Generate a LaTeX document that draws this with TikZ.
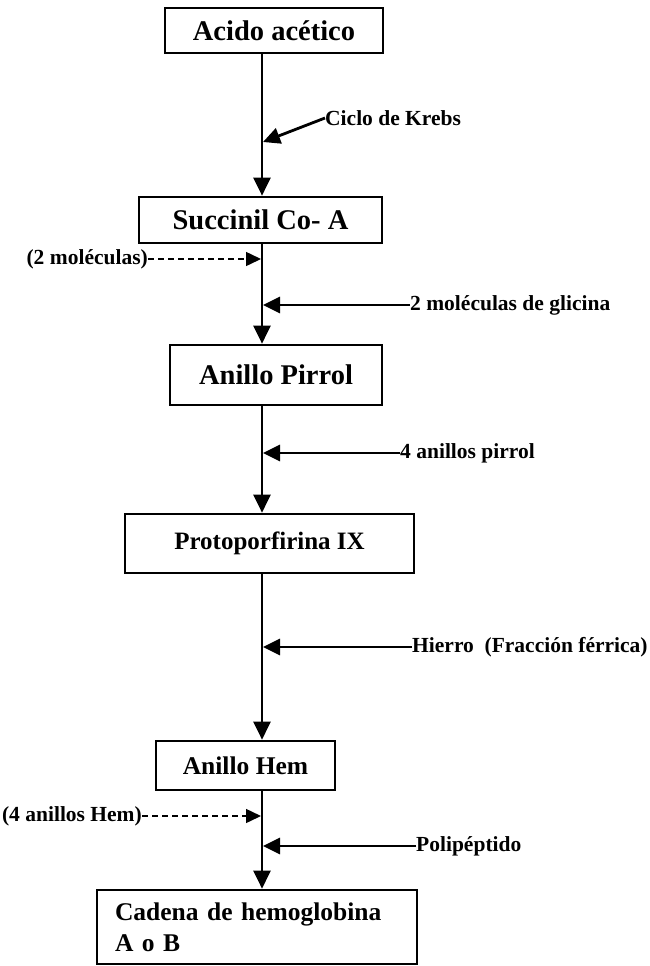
\documentclass[tikz,border=0pt]{standalone}
\usepackage{fontspec}
\setmainfont{Liberation Serif}
\usetikzlibrary{arrows.meta}
\begin{document}
\begin{tikzpicture}[x=1pt,y=-1pt,
  box/.style={draw, line width=2.7pt, inner sep=0pt},
  flow/.style={line width=2.8pt, -{Triangle[length=18pt,width=17pt]}},
  feed/.style={line width=2.8pt, -{Triangle[length=17pt,width=16pt]}},
  dfeed/.style={line width=1.5pt, dash pattern=on 6pt off 4pt, -{Triangle[length=15pt,width=14pt]}},
  lbl/.style={font=\bfseries\fontsize{21.5}{24}\selectfont, inner sep=0pt}]
\useasboundingbox (0,0) rectangle (649,966);
\coordinate (col) at (262,0);
% boxes
\node[box, minimum width=218pt, minimum height=45pt, font=\bfseries\fontsize{28.5}{30}\selectfont] (b1) at (274,30.5) {Acido acético};
\node[box, minimum width=243pt, minimum height=46pt, font=\bfseries\fontsize{28.5}{30}\selectfont] (b2) at (260.5,220) {Succinil Co- A};
\node[box, minimum width=212pt, minimum height=60pt, font=\bfseries\fontsize{28.5}{30}\selectfont] (b3) at (276,375) {Anillo Pirrol};
\node[box, minimum width=289pt, minimum height=59pt, font=\bfseries\fontsize{25}{28}\selectfont] (b4) at (269.5,543.5) {Protoporfirina IX};
\node[box, minimum width=179pt, minimum height=49pt, font=\bfseries\fontsize{25.5}{28}\selectfont] (b5) at (245.5,765.5) {Anillo Hem};
\node[box, minimum width=320pt, minimum height=74pt, inner xsep=18pt, text width=284pt, align=left, font=\bfseries\fontsize{25.5}{31}\selectfont] (b6) at (257,927) {Cadena de hemoglobina\\A o B};
% main flow
\draw[flow] (b1.south -| col) -- (b2.north -| col);
\draw[flow] (b2.south -| col) -- (b3.north -| col);
\draw[flow] (b3.south -| col) -- (b4.north -| col);
\draw[flow] (b4.south -| col) -- (b5.north -| col);
\draw[flow] (b5.south -| col) -- (b6.north -| col);
% side inputs
\node[lbl, anchor=west] (krebs) at (325,118) {Ciclo de Krebs};
\coordinate (jk) at (263,142);
\draw[feed] (krebs.west) -- (jk);
\node[lbl, anchor=east] (m2) at (148,259) {(2 moléculas)};
\coordinate (jm) at (261,259);
\draw[dfeed] (m2.east) -- (jm);
\node[lbl, anchor=west] (gli) at (410,305) {2 moléculas de glicina};
\coordinate (jg) at (263,305);
\draw[feed] (gli.west) -- (jg);
\node[lbl, anchor=west] (pir) at (400,453) {4 anillos pirrol};
\coordinate (jp) at (263,453);
\draw[feed] (pir.west) -- (jp);
\node[lbl, anchor=west] (fe) at (412,647) {Hierro\ \ (Fracción férrica)};
\coordinate (jf) at (263,647);
\draw[feed] (fe.west) -- (jf);
\node[lbl, anchor=east] (h4) at (142,816) {(4 anillos Hem)};
\coordinate (jh) at (261,816);
\draw[dfeed] (h4.east) -- (jh);
\node[lbl, anchor=west] (pol) at (416,846) {Polipéptido};
\coordinate (jpo) at (263,846);
\draw[feed] (pol.west) -- (jpo);
\end{tikzpicture}
\end{document}
